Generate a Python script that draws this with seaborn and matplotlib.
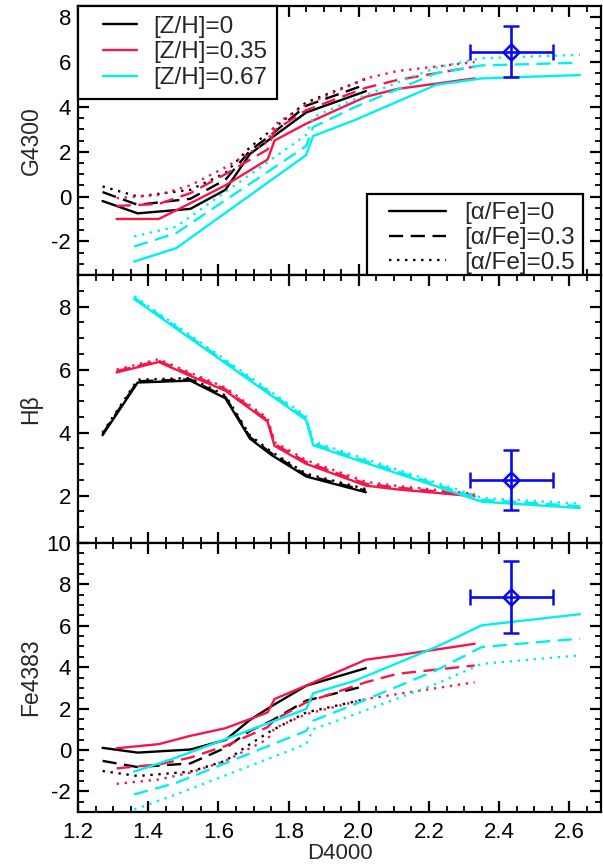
import numpy as np
import pandas as pd
import matplotlib
matplotlib.use("Agg")
import matplotlib.pyplot as plt
from matplotlib.lines import Line2D
from matplotlib.legend_handler import HandlerLine2D
from matplotlib.ticker import MultipleLocator
import seaborn as sns

# ---------------- data ----------------
Z_LEVELS = ["0", "0.35", "0.67"]
A_LEVELS = ["0", "0.3", "0.5"]

X_Z0 = [1.27, 1.37, 1.52, 1.62, 1.69, 1.75, 1.85, 2.02]
X_Z035 = [1.31, 1.43, 1.52, 1.62, 1.74, 1.76, 1.85, 2.02, 2.11, 2.33]
X_Z067 = [1.36, 1.48, 1.85, 1.87, 1.99, 2.22, 2.35, 2.63]

# G4300
G_Z0_A0 = [-0.2, -0.75, -0.55, 0.3, 1.9, 2.6, 3.75, 4.7]
G_Z0_A03 = [0.2, -0.37, -0.1, 0.75, 2.05, 2.75, 4.05, 5.0]
G_Z0_A05 = [0.45, 0.0, 0.3, 1.05, 2.2, 2.95, 4.2, 5.25]
G_Z035_A0 = [-1.0, -1.0, -0.3, 0.5, 1.65, 2.5, 3.25, 4.45, 4.8, 5.27]
G_Z035_A03 = [-0.42, -0.33, 0.15, 1.0, 2.1, 2.95, 3.85, 4.85, 5.2, 5.8]
G_Z035_A05 = [-0.07, 0.07, 0.5, 1.3, 2.45, 3.2, 4.1, 5.27, 5.6, 6.0]
G_Z067_A0 = [-2.9, -2.3, 1.85, 2.7, 3.42, 4.98, 5.27, 5.42]
G_Z067_A03 = [-2.23, -1.63, 2.25, 3.1, 4.0, 5.5, 5.85, 5.97]
G_Z067_A05 = [-1.78, -1.34, 2.75, 3.55, 4.35, 5.75, 6.17, 6.32]

# H beta
H_Z0_A0 = [3.92, 5.59, 5.65, 5.09, 3.81, 3.3, 2.61, 2.11]
H_Z0_A03 = [3.96, 5.63, 5.69, 5.13, 3.86, 3.35, 2.65, 2.16]
H_Z0_A05 = [4.0, 5.68, 5.73, 5.18, 3.91, 3.4, 2.7, 2.21]
H_Z035_A0 = [5.91, 6.24, 5.8, 5.33, 4.35, 3.58, 3.01, 2.32, 2.2, 1.98]
H_Z035_A03 = [5.95, 6.28, 5.85, 5.38, 4.4, 3.64, 3.07, 2.38, 2.26, 2.02]
H_Z035_A05 = [6.0, 6.33, 5.9, 5.43, 4.46, 3.7, 3.13, 2.44, 2.31, 2.06]
H_Z067_A0 = [8.24, 7.3, 4.4, 3.6, 3.15, 2.3, 1.81, 1.61]
H_Z067_A03 = [8.28, 7.35, 4.46, 3.66, 3.21, 2.36, 1.87, 1.67]
H_Z067_A05 = [8.33, 7.4, 4.52, 3.72, 3.27, 2.42, 1.93, 1.75]

# Fe4383
F_Z0_A0 = [0.1, -0.13, 0.02, 0.48, 1.45, 2.1, 3.1, 3.95]
F_Z0_A03 = [-0.53, -0.83, -0.65, 0.1, 0.92, 1.4, 2.38, 3.1]
F_Z0_A05 = [-1.02, -1.26, -1.05, -0.53, 0.28, 0.92, 1.81, 2.46]
F_Z035_A0 = [0.08, 0.28, 0.68, 1.05, 1.81, 2.46, 3.11, 4.36, 4.57, 5.13]
F_Z035_A03 = [-0.89, -0.7, -0.37, 0.19, 1.1, 1.45, 2.3, 3.27, 3.68, 4.08]
F_Z035_A05 = [-1.64, -1.43, -1.1, -0.53, 0.52, 1.05, 1.73, 2.46, 2.7, 3.27]
F_Z067_A0 = [-1.05, -0.37, 1.98, 2.74, 3.35, 4.97, 6.02, 6.56]
F_Z067_A03 = [-2.15, -1.59, 0.92, 1.41, 2.22, 3.84, 4.97, 5.38]
F_Z067_A05 = [-2.88, -2.15, 0.28, 1.0, 1.73, 3.19, 4.16, 4.57]

# observed point
OBS_X = 2.435
OBS_XERR = 0.117
OBS_G, OBS_G_ERR = 6.47, 1.12
OBS_H, OBS_H_ERR = 2.51, 0.95
OBS_F, OBS_F_ERR = 7.40, 1.73

PANEL_NAMES = ["G4300", "H\u03b2", "Fe4383"]
Y_LIMITS = [(-3.5, 8.5), (0.5, 9.0), (-3.0, 10.0)]
X_TICKS = [1.2, 1.4, 1.6, 1.8, 2.0, 2.2, 2.4, 2.6]

# ---------------- build long table ----------------
xgrids = {"0": X_Z0, "0.35": X_Z035, "0.67": X_Z067}
panel_series = {
    "G4300": {("0", "0"): G_Z0_A0, ("0", "0.3"): G_Z0_A03, ("0", "0.5"): G_Z0_A05,
              ("0.35", "0"): G_Z035_A0, ("0.35", "0.3"): G_Z035_A03, ("0.35", "0.5"): G_Z035_A05,
              ("0.67", "0"): G_Z067_A0, ("0.67", "0.3"): G_Z067_A03, ("0.67", "0.5"): G_Z067_A05},
    "H\u03b2": {("0", "0"): H_Z0_A0, ("0", "0.3"): H_Z0_A03, ("0", "0.5"): H_Z0_A05,
               ("0.35", "0"): H_Z035_A0, ("0.35", "0.3"): H_Z035_A03, ("0.35", "0.5"): H_Z035_A05,
               ("0.67", "0"): H_Z067_A0, ("0.67", "0.3"): H_Z067_A03, ("0.67", "0.5"): H_Z067_A05},
    "Fe4383": {("0", "0"): F_Z0_A0, ("0", "0.3"): F_Z0_A03, ("0", "0.5"): F_Z0_A05,
               ("0.35", "0"): F_Z035_A0, ("0.35", "0.3"): F_Z035_A03, ("0.35", "0.5"): F_Z035_A05,
               ("0.67", "0"): F_Z067_A0, ("0.67", "0.3"): F_Z067_A03, ("0.67", "0.5"): F_Z067_A05},
}
rows = []
for pname, d in panel_series.items():
    for (z, a), ys in d.items():
        for xv, yv in zip(xgrids[z], ys):
            rows.append({"panel": pname, "Z": z, "alpha": a, "D4000": xv, "value": yv})
df = pd.DataFrame(rows)

obs_vals = {"G4300": (OBS_G, OBS_G_ERR), "H\u03b2": (OBS_H, OBS_H_ERR), "Fe4383": (OBS_F, OBS_F_ERR)}

# ---------------- style ----------------
sns.set_style("ticks")
plt.rcParams["font.family"] = ["Liberation Sans", "DejaVu Sans"]
plt.rcParams["axes.linewidth"] = 1.6
plt.rcParams["axes.unicode_minus"] = False

RED = "#f5164a"
CYAN = "#00f0f0"
BLUE = "#0a0af0"
palette = {"0": "black", "0.35": RED, "0.67": CYAN}
dashes = {"0": "", "0.3": (6, 3.2), "0.5": (1.0, 2.4)}

W, H = 603, 867
fig = plt.figure(figsize=(W / 100, H / 100), dpi=100)
left = 78 / W
width = (601 - 78) / W
bounds_px = [(6, 275), (275, 543), (543, 812)]

axes = []
for i, (pname, (t, b)) in enumerate(zip(PANEL_NAMES, bounds_px)):
    ax = fig.add_axes([left, (H - b) / H, width, (b - t) / H])
    axes.append(ax)
    sub = df[df["panel"] == pname]
    sns.lineplot(data=sub, x="D4000", y="value", hue="Z", style="alpha",
                 hue_order=Z_LEVELS, style_order=A_LEVELS,
                 palette=palette, dashes=dashes, estimator=None, sort=False,
                 linewidth=1.7, legend=False, ax=ax)
    yv, ye = obs_vals[pname]
    ax.errorbar([OBS_X], [yv], xerr=[OBS_XERR], yerr=[ye], fmt="D", color=BLUE,
                mfc="none", mec=BLUE, ms=8, mew=1.8, elinewidth=1.9,
                capsize=5.5, capthick=1.9, zorder=5)
    ax.set_xlim(1.2, 2.69)
    ax.set_ylim(*Y_LIMITS[i])
    ax.set_xticks(X_TICKS)
    ax.xaxis.set_minor_locator(MultipleLocator(0.05))
    ax.yaxis.set_major_locator(MultipleLocator(2))
    ax.yaxis.set_minor_locator(MultipleLocator(0.5))
    ax.tick_params(which="both", direction="in", top=True, right=True,
                   labelsize=16, colors="black")
    ax.tick_params(which="major", length=8, width=1.6)
    ax.tick_params(which="minor", length=4, width=1.3)
    ax.tick_params(axis="x", pad=7)
    ax.tick_params(axis="y", pad=5)
    ax.set_ylabel(pname, fontsize=16.5)
    ax.yaxis.set_label_coords(-0.068, 0.5)
    if i < 2:
        ax.tick_params(labelbottom=False)
        ax.set_xlabel("")
    else:
        ax.set_xticklabels([f"{v:.1f}" for v in X_TICKS])
        ax.set_xlabel("D4000", fontsize=16, labelpad=0)
    for s in ax.spines.values():
        s.set_linewidth(1.6)
        s.set_color("black")

# legends in top panel
LEG_FS = 17.5
fs_px = LEG_FS * 100 / 72.0
ax0 = axes[0]
h1 = [Line2D([], [], color=palette[z], lw=1.7) for z in Z_LEVELS]
l1 = [f"[Z/H]={z}" for z in Z_LEVELS]
x1pad = 15 / fs_px
leg1 = ax0.legend(h1, l1, loc="upper left", bbox_to_anchor=(0, 1), borderaxespad=0,
                  fancybox=False, framealpha=1, edgecolor="black", fontsize=LEG_FS,
                  handlelength=x1pad + 34.5 / fs_px, handletextpad=0.65,
                  labelspacing=0.15, borderpad=0.4,
                  handler_map={Line2D: HandlerLine2D(xpad=x1pad)})
leg1.get_frame().set_linewidth(1.6)
ax0.add_artist(leg1)
h2 = [Line2D([], [], color="black", lw=1.7, linestyle=(0, dashes[a]) if dashes[a] else "-")
      for a in A_LEVELS]
l2 = [f"[\u03b1/Fe]={a}" for a in A_LEVELS]
x2pad = 14 / fs_px
leg2 = ax0.legend(h2, l2, loc="lower right", bbox_to_anchor=((583 - 78) / 523, -7 / 269),
                  borderaxespad=0, fancybox=False, framealpha=1, edgecolor="black",
                  fontsize=LEG_FS, handlelength=x2pad + 57 / fs_px, handletextpad=0.75,
                  labelspacing=0.12, borderpad=0.33,
                  handler_map={Line2D: HandlerLine2D(xpad=x2pad)})
leg2.get_frame().set_linewidth(1.6)

fig.savefig("out.png", dpi=100)
